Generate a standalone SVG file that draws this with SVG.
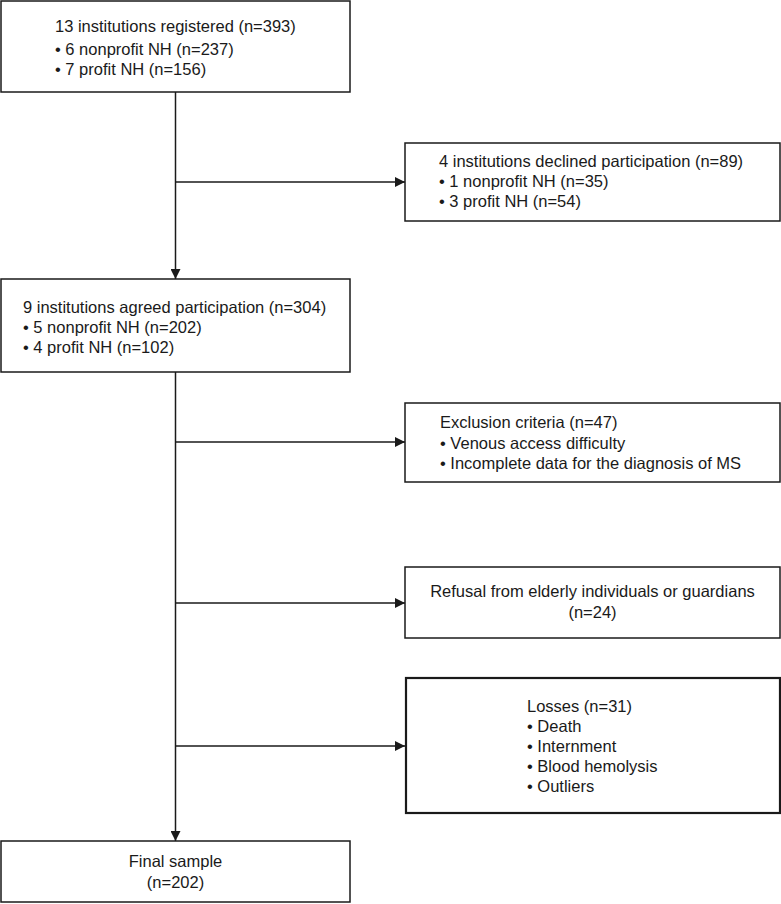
<svg xmlns="http://www.w3.org/2000/svg" width="781" height="904" viewBox="0 0 781 904">
<style>
.box{fill:#fff;stroke:#1a1a1a;stroke-width:1.5}
.thick{stroke-width:2.2}
.t{font-family:"Liberation Sans",Arial,sans-serif;font-size:16.5px;fill:#1a1a1a}
.c{text-anchor:middle}
.ln{stroke:#1a1a1a;stroke-width:1.5;fill:none}
</style>
<defs>
<marker id="ah" markerWidth="10" markerHeight="10" refX="10" refY="5" orient="auto" markerUnits="userSpaceOnUse">
<path d="M0,0 L10,5 L0,10 Z" fill="#1a1a1a"/>
</marker>
</defs>
<rect width="781" height="904" fill="#fff"/>
<g id="connectors">
<line class="ln" x1="175.5" y1="92" x2="175.5" y2="279" marker-end="url(#ah)"/>
<line class="ln" x1="175.5" y1="182" x2="405" y2="182" marker-end="url(#ah)"/>
<line class="ln" x1="175.5" y1="372" x2="175.5" y2="841" marker-end="url(#ah)"/>
<line class="ln" x1="175.5" y1="442" x2="405" y2="442" marker-end="url(#ah)"/>
<line class="ln" x1="175.5" y1="603" x2="405" y2="603" marker-end="url(#ah)"/>
<line class="ln" x1="175.5" y1="746" x2="405" y2="746" marker-end="url(#ah)"/>
</g>
<g id="registered">
<rect class="box" x="1" y="1" width="349" height="91"/>
<text class="t" x="55" y="32">13 institutions registered (n=393)</text>
<text class="t" x="55" y="55">• 6 nonprofit NH (n=237)</text>
<text class="t" x="55" y="75">• 7 profit NH (n=156)</text>
</g>
<g id="declined">
<rect class="box" x="405" y="143" width="375" height="78"/>
<text class="t" x="439" y="167">4 institutions declined participation (n=89)</text>
<text class="t" x="439" y="187">• 1 nonprofit NH (n=35)</text>
<text class="t" x="439" y="207">• 3 profit NH (n=54)</text>
</g>
<g id="agreed">
<rect class="box" x="1" y="279" width="349" height="93"/>
<text class="t" x="23" y="313">9 institutions agreed participation (n=304)</text>
<text class="t" x="23" y="333">• 5 nonprofit NH (n=202)</text>
<text class="t" x="23" y="353">• 4 profit NH (n=102)</text>
</g>
<g id="exclusion">
<rect class="box" x="405" y="403" width="375" height="79"/>
<text class="t" x="440" y="428">Exclusion criteria (n=47)</text>
<text class="t" x="440" y="449">• Venous access difficulty</text>
<text class="t" x="440" y="469">• Incomplete data for the diagnosis of MS</text>
</g>
<g id="refusal">
<rect class="box" x="405" y="567" width="375" height="71"/>
<text class="t c" x="592.5" y="597">Refusal from elderly individuals or guardians</text>
<text class="t c" x="592.5" y="618">(n=24)</text>
</g>
<g id="losses">
<rect class="box thick" x="406" y="678" width="374" height="135"/>
<text class="t" x="527" y="712">Losses (n=31)</text>
<text class="t" x="527" y="732">• Death</text>
<text class="t" x="527" y="752">• Internment</text>
<text class="t" x="527" y="772">• Blood hemolysis</text>
<text class="t" x="527" y="792">• Outliers</text>
</g>
<g id="final">
<rect class="box" x="1" y="841" width="349" height="61"/>
<text class="t c" x="175.5" y="867">Final sample</text>
<text class="t c" x="175.5" y="888">(n=202)</text>
</g>
</svg>
